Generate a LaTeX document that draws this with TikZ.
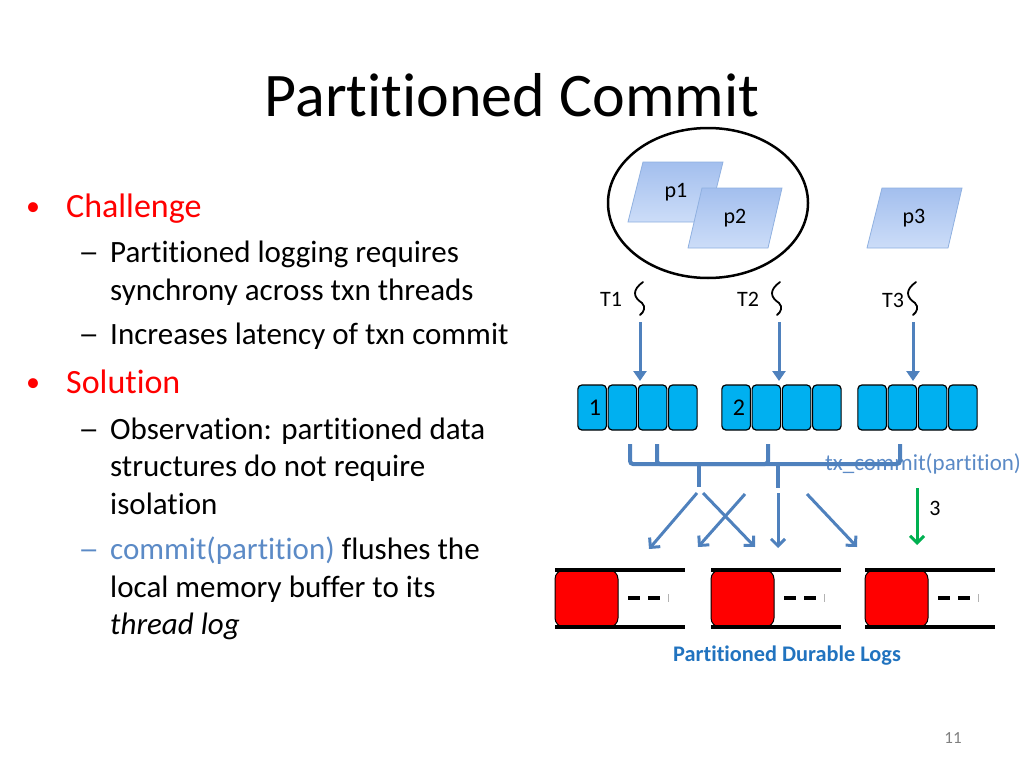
\documentclass[tikz,border=0pt]{standalone}
\usepackage{fontspec}
\setmainfont{Carlito}[RawFeature={-liga;-clig;-calt;-dlig}]
\usetikzlibrary{arrows.meta,shapes.geometric}
\definecolor{arrblue}{HTML}{4F81BD}
\definecolor{txtblue}{HTML}{5B8AC6}
\definecolor{logblue}{HTML}{2173BF}
\definecolor{cellblue}{HTML}{00B0F0}
\definecolor{pborder}{HTML}{8FB0E0}
\definecolor{ptop}{HTML}{A3BFEE}
\definecolor{pbot}{HTML}{CCDDF8}
\definecolor{gr}{HTML}{00B050}
\tikzset{
  lvlone/.style={anchor=base west, font=\fontsize{34}{40}\selectfont, text=red, inner sep=0},
  lvltwo/.style={anchor=base west, font=\fontsize{31}{37}\selectfont, inner sep=0},
  bulletdot/.style={anchor=base, text=red, font=\fontsize{28}{32}\selectfont, inner sep=0},
  dashmark/.style={anchor=base west, font=\fontsize{31}{37}\selectfont, inner sep=0, xscale=1.35},
  small/.style={font=\fontsize{22}{26}\selectfont, inner sep=0},
  para/.style={draw=pborder, line width=0.8pt, top color=ptop, bottom color=pbot},
  cell/.style={draw=black, line width=1.2pt, fill=cellblue, rounded corners=4pt, minimum width=28.5pt, minimum height=45pt, inner sep=0},
  downarr/.style={arrblue, line width=3pt, -{Triangle[length=10pt,width=13pt]}},
  fanarr/.style={arrblue, line width=3pt, -{Straight Barb[length=7pt,width=14pt]}},
  brace/.style={arrblue, line width=4pt, rounded corners=3pt},
  redbox/.style={draw=black, line width=1pt, fill=red, rounded corners=9pt, minimum width=63pt, minimum height=57pt, inner sep=0},
  logline/.style={black, line width=4pt},
  squig/.style={black, line width=1.8pt, line cap=round},
}
\begin{document}
\begin{tikzpicture}[x=1pt,y=-1pt]
\useasboundingbox (0,0) rectangle (1024,768);

% title
\node[anchor=base, font=\fontsize{62}{74}\selectfont, inner sep=0] (title) at (512,116) {Partitioned Commit};

% bullets
\node[bulletdot] (b1) at (33,215) {•};
\node[lvlone] (challenge) at (66,217) {Challenge};
\node[dashmark] (d1) at (78,262) {–};
\node[lvltwo] (l1) at (110,262) {Partitioned logging requires};
\node[lvltwo] (l2) at (110,300) {synchrony across txn threads};
\node[dashmark] (d2) at (78,344) {–};
\node[lvltwo] (l3) at (110,344) {Increases latency of txn commit};
\node[bulletdot] (b2) at (33,391) {•};
\node[lvlone] (solution) at (66,393) {Solution};
\node[dashmark] (d3) at (78,439) {–};
\node[lvltwo] (l4) at (110,439) {Observation: partitioned data};
\node[lvltwo] (l5) at (110,476) {structures do not require};
\node[lvltwo] (l6) at (110,514) {isolation};
\node[dashmark, text=txtblue] (d4) at (78,559) {–};
\node[lvltwo] (l7) at (110,559) {\textcolor{txtblue}{commit(partition)} flushes the};
\node[lvltwo] (l8) at (110,597) {local memory buffer to its};
\node[lvltwo] (l9) at (110,634) {\itshape thread log};

% partitions
\node[ellipse, draw=black, line width=2.5pt, minimum width=200pt, minimum height=150pt] (grp) at (708,203) {};
\path[para] (643,162) -- (723,162) -- (708,222) -- (628,222) -- cycle;
\node[small] (p1) at (676,192) {p1};
\path[para] (702,188) -- (782,188) -- (768,248) -- (688,248) -- cycle;
\node[small] (p2) at (735,218) {p2};
\path[para] (882,188) -- (962,188) -- (948,248) -- (867,248) -- cycle;
\node[small] (p3) at (914,218) {p3};

% threads
\node[small] (T1) at (611,299) {T1};
\node[small] (T2) at (748,299) {T2};
\node[small] (T3) at (893,300) {T3};
\foreach \x in {643,780,916}{
  \draw[squig] (\x,282) .. controls (\x-11,290) and (\x-10,297) .. (\x-1,303)
                        .. controls (\x+3,307) and (\x+1,312) .. (\x-3,315);
}
\coordinate (a1s) at (640,322); \coordinate (a1e) at (640,381);
\coordinate (a2s) at (779,322); \coordinate (a2e) at (779,381);
\coordinate (a3s) at (913,322); \coordinate (a3e) at (913,381);
\draw[downarr] (a1s) -- (a1e);
\draw[downarr] (a2s) -- (a2e);
\draw[downarr] (a3s) -- (a3e);

% buffers
\foreach \bx/\bn in {577/1,721/2,857/3}{
  \foreach \i in {0,1,2,3}{
    \node[cell] (buf\bn c\i) at ({\bx+15.1+30.25*\i},407.5) {};
  }
}
\node[font=\fontsize{24}{28}\selectfont, inner sep=0] (n1) at (595,408) {1};
\node[font=\fontsize{24}{28}\selectfont, inner sep=0] (n2) at (739,408) {2};

% commit label and braces
\node[anchor=base west, font=\fontsize{23}{27}\selectfont, text=txtblue, inner sep=0] (txc) at (825,470) {tx\_commit(partition)};
\draw[brace] (630,444) -- (630,464) -- (768,464) -- (768,444);
\draw[brace] (657,444) -- (657,464) -- (900,464) -- (900,444);
\coordinate (s1a) at (699,464); \coordinate (s1b) at (699,487);
\coordinate (s2a) at (778,464); \coordinate (s2b) at (778,488);
\draw[arrblue, line width=4pt] (s1a) -- (s1b);
\draw[arrblue, line width=4pt] (s2a) -- (s2b);

% fan arrows
\coordinate (fa1) at (697,493); \coordinate (fa2) at (649,549);
\coordinate (fb1) at (703,493); \coordinate (fb2) at (755,547);
\coordinate (fc1) at (745,494); \coordinate (fc2) at (698,547);
\coordinate (fd1) at (778,493); \coordinate (fd2) at (778,548);
\coordinate (fe1) at (807,494); \coordinate (fe2) at (857,547);
\draw[fanarr] (fa1) -- (fa2);
\draw[fanarr] (fb1) -- (fb2);
\draw[fanarr] (fc1) -- (fc2);
\draw[fanarr] (fd1) -- (fd2);
\draw[fanarr] (fe1) -- (fe2);
\coordinate (g1) at (917,488); \coordinate (g2) at (917,545);
\draw[gr, line width=3pt, -{Straight Barb[length=7pt,width=14pt]}] (g1) -- (g2);
\node[small] (three) at (935,508) {3};

% logs
\foreach \lx/\ln in {555/1,711/2,865/3}{
  \node[redbox] (log\ln) at ({\lx+31.5},598.5) {};
  \draw[logline] (\lx,570) -- (\lx+130,570);
  \draw[logline] (\lx,627) -- (\lx+130,627);
  \draw[black, line width=4pt] (\lx+73,598) -- (\lx+85,598);
  \draw[black, line width=4pt] (\lx+93,598) -- (\lx+105,598);
  \draw[gray!60, line width=0.8pt] (\lx+113,594) -- (\lx+113,602);
}
\node[font=\bfseries\fontsize{22.3}{26}\selectfont, text=logblue, inner sep=0] (logs) at (787,656) {Partitioned Durable Logs};

% page number
\node[font=\fontsize{17}{20}\selectfont, text=gray, inner sep=0] (pg) at (953,738) {11};
\end{tikzpicture}
\end{document}
